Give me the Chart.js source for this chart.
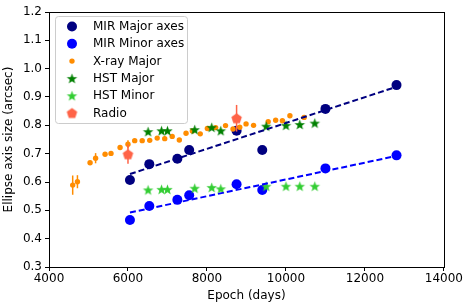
<!DOCTYPE html>
<html>
<head>
<meta charset="utf-8">
<script src="https://cdn.jsdelivr.net/npm/chart.js@4"></script>
<style>
  html, body { margin: 0; padding: 0; background: white; }
  #wrap { width: 464px; height: 303px; }
</style>
</head>
<body>
<div id="wrap"><canvas id="ellipse"></canvas></div>
<script>
        // MIR measurements
        var mirEpoch = [6050, 6540, 7250, 7550, 8750, 9400, 11000, 12800];
        var mirMajor = [0.607, 0.663, 0.682, 0.713, 0.781, 0.713, 0.858, 0.942];
        var mirMinor = [0.466, 0.515, 0.537, 0.553, 0.592, 0.572, 0.648, 0.694];

        // X-ray
        var xrayEpoch = [4600, 4720, 5040, 5180, 5420, 5570, 5800, 6000, 6170, 6360, 6550, 6740, 6930, 7120, 7300, 7470, 7630, 7830, 8010, 8220, 8470, 8660, 8830, 8990, 9180, 9550, 9740, 9910, 10100, 10460];
        var xrayMajor = [0.589, 0.601, 0.668, 0.684, 0.698, 0.701, 0.722, 0.733, 0.746, 0.746, 0.747, 0.755, 0.753, 0.761, 0.748, 0.772, 0.780, 0.770, 0.789, 0.792, 0.799, 0.787, 0.793, 0.805, 0.800, 0.813, 0.818, 0.816, 0.834, 0.828];
        var xrayErr = [0.034, 0.023, 0, 0.018, 0, 0, 0, 0.014, 0, 0, 0, 0, 0, 0, 0, 0, 0, 0, 0, 0, 0, 0, 0, 0, 0, 0, 0, 0, 0, 0];

        // HST
        var hstEpoch = [6510, 6850, 7000, 7690, 8120, 8350, 9500, 10000, 10350, 10730];
        var hstMajor = [0.778, 0.781, 0.781, 0.785, 0.793, 0.781, 0.797, 0.800, 0.803, 0.808];
        var hstMinor = [0.572, 0.574, 0.574, 0.578, 0.581, 0.576, 0.585, 0.585, 0.585, 0.585];

        // Radio
        var radioEpoch = [6000, 8750];
        var radioSize = [0.698, 0.825];
        var radioErr = [0.034, 0.047];

        // linear fits to MIR
        var fitEpoch = [6050, 12800];
        var fitMajor = [0.628, 0.936];
        var fitMinor = [0.492, 0.692];

        var xTicks = [4000, 6000, 8000, 10000, 12000, 14000];
        var yTicks = [0.3, 0.4, 0.5, 0.6, 0.7, 0.8, 0.9, 1.0, 1.1, 1.2];

        Chart.defaults.font.family = "'DejaVu Sans', sans-serif";
        Chart.defaults.font.size = 12;
        Chart.defaults.color = "black";

        function pts(xs, ys) {
            return xs.map(function (x, i) { return {x: x, y: ys[i]}; });
        }

        function starImg(color, r) {
            var c = document.createElement("canvas");
            var s = Math.ceil(r * 2 + 2);
            c.width = s; c.height = s;
            var g = c.getContext("2d");
            g.fillStyle = color;
            g.beginPath();
            for (var i = 0; i < 10; i++) {
                var rr = i % 2 === 0 ? r : r * 0.42;
                var a = -Math.PI / 2 + i * Math.PI / 5;
                g.lineTo(s / 2 + rr * Math.cos(a), s / 2 + 0.5 + rr * Math.sin(a));
            }
            g.closePath();
            g.fill();
            return c;
        }

        function pentaImg(color, r) {
            var c = document.createElement("canvas");
            var s = Math.ceil(r * 2 + 2);
            c.width = s; c.height = s;
            var g = c.getContext("2d");
            g.fillStyle = color;
            g.beginPath();
            for (var i = 0; i < 5; i++) {
                var a = -Math.PI / 2 + i * 2 * Math.PI / 5;
                g.lineTo(s / 2 + r * Math.cos(a), s / 2 + 0.5 + r * Math.sin(a));
            }
            g.closePath();
            g.fill();
            return c;
        }

        var hstMajStar = starImg("#008000", 5.5);
        var hstMinStar = starImg("#32cd32", 5.5);
        var radioPenta = pentaImg("#ff6347", 5.5);

        // error bars (drawn just under each dataset's own markers) + frame + legend
        var extras = {
            id: 'extras',
            beforeDatasetDraw: function (chart, args) {
                var ds = chart.data.datasets[args.index];
                if (!ds.errs) return;
                var ctx = chart.ctx;
                var xs = chart.scales.x, ys = chart.scales.y;
                ctx.save();
                ctx.strokeStyle = ds.backgroundColor;
                ctx.lineWidth = 1.5;
                ds.data.forEach(function (p, i) {
                    var e = ds.errs[i];
                    if (!e) return;
                    var px = xs.getPixelForValue(p.x);
                    ctx.beginPath();
                    ctx.moveTo(px, ys.getPixelForValue(p.y - e));
                    ctx.lineTo(px, ys.getPixelForValue(p.y + e));
                    ctx.stroke();
                });
                ctx.restore();
            },
            afterDraw: function (chart) {
                var ctx = chart.ctx;
                var a = chart.chartArea;
                ctx.save();
                ctx.strokeStyle = "black";
                ctx.lineWidth = 1;
                ctx.strokeRect(Math.round(a.left) + 0.5, Math.round(a.top) + 0.5,
                    Math.round(a.right - a.left), Math.round(a.bottom - a.top));

                // legend
                var lx = a.left + 6, ly = a.top + 4, lw = 132, lh = 107;
                ctx.fillStyle = "rgba(255,255,255,0.8)";
                ctx.strokeStyle = "#cccccc";
                ctx.lineWidth = 1;
                ctx.beginPath();
                ctx.roundRect(lx + 0.5, ly + 0.5, lw, lh, 3);
                ctx.fill();
                ctx.stroke();
                ctx.font = "12px 'DejaVu Sans', sans-serif";
                ctx.textBaseline = "middle";
                var items = chart.data.datasets.filter(function (d) { return !d.isFit; });
                items.forEach(function (d, i) {
                    var cy = ly + 10.5 + i * 17.3;
                    var cx = lx + 17;
                    if (d.pointStyle && typeof d.pointStyle === "object") {
                        ctx.drawImage(d.pointStyle, cx - d.pointStyle.width / 2, cy - d.pointStyle.height / 2);
                    } else {
                        ctx.fillStyle = d.backgroundColor;
                        ctx.beginPath();
                        ctx.arc(cx, cy, d.pointRadius, 0, Math.PI * 2);
                        ctx.fill();
                    }
                    ctx.fillStyle = "black";
                    ctx.fillText(d.label, lx + 38, cy + 0.5);
                });
                ctx.restore();
            }
        };

        new Chart(document.getElementById("ellipse"), {
            type: "scatter",
            data: {
                datasets: [{
                    label: "MIR Major axes",
                    data: pts(mirEpoch, mirMajor),
                    order: 8,
                    pointRadius: 5,
                    backgroundColor: "#000080",
                    borderWidth: 0
                }, {
                    label: "MIR Minor axes",
                    data: pts(mirEpoch, mirMinor),
                    order: 7,
                    pointRadius: 5,
                    backgroundColor: "#0000ff",
                    borderWidth: 0
                }, {
                    label: "X-ray Major",
                    data: pts(xrayEpoch, xrayMajor),
                    errs: xrayErr,
                    order: 6,
                    pointRadius: 2.7,
                    backgroundColor: "#ff8c00",
                    borderWidth: 0
                }, {
                    label: "HST Major",
                    data: pts(hstEpoch, hstMajor),
                    order: 5,
                    pointStyle: hstMajStar,
                    backgroundColor: "#008000"
                }, {
                    label: "HST Minor",
                    data: pts(hstEpoch, hstMinor),
                    order: 4,
                    pointStyle: hstMinStar,
                    backgroundColor: "#32cd32"
                }, {
                    label: "Radio",
                    data: pts(radioEpoch, radioSize),
                    errs: radioErr,
                    order: 3,
                    pointStyle: radioPenta,
                    backgroundColor: "#ff6347"
                }, {
                    label: "fit major",
                    isFit: true,
                    data: pts(fitEpoch, fitMajor),
                    order: 2,
                    showLine: true,
                    pointRadius: 0,
                    borderColor: "#000080",
                    borderWidth: 2,
                    borderDash: [6, 3]
                }, {
                    label: "fit minor",
                    isFit: true,
                    data: pts(fitEpoch, fitMinor),
                    order: 1,
                    showLine: true,
                    pointRadius: 0,
                    borderColor: "#0000ff",
                    borderWidth: 2,
                    borderDash: [6, 3]
                }]
            },
            options: {
                responsive: true,
                maintainAspectRatio: false,
                animation: false,
                layout: {
                    padding: {left: 2, right: 20, top: 12, bottom: 0}
                },
                plugins: {
                    legend: {display: false},
                    tooltip: {enabled: false}
                },
                scales: {
                    x: {
                        type: "linear",
                        min: 4000,
                        max: 14000,
                        afterBuildTicks: function (s) {
                            s.ticks = xTicks.map(function (v) { return {value: v}; });
                        },
                        afterFit: function (s) { s.height = 36; },
                        grid: {
                            drawOnChartArea: false,
                            tickLength: 4,
                            color: "black"
                        },
                        border: {color: "black"},
                        ticks: {
                            color: "black",
                            padding: 1,
                            maxRotation: 0,
                            callback: function (v) { return String(v); }
                        },
                        title: {
                            display: true,
                            text: "Epoch (days)",
                            color: "black",
                            padding: {top: 0, bottom: 0}
                        }
                    },
                    y: {
                        type: "linear",
                        min: 0.3,
                        max: 1.2,
                        afterBuildTicks: function (s) {
                            s.ticks = yTicks.map(function (v) { return {value: v}; });
                        },
                        afterFit: function (s) { s.width = 47; },
                        grid: {
                            drawOnChartArea: false,
                            tickLength: 4,
                            color: "black"
                        },
                        border: {color: "black"},
                        ticks: {
                            color: "black",
                            padding: 3,
                            callback: function (v) { return v.toFixed(1); }
                        },
                        title: {
                            display: true,
                            text: "Ellipse axis size (arcsec)",
                            color: "black",
                            padding: {top: 0, bottom: 1}
                        }
                    }
                }
            },
            plugins: [extras]
        });
</script>
</body>
</html>
